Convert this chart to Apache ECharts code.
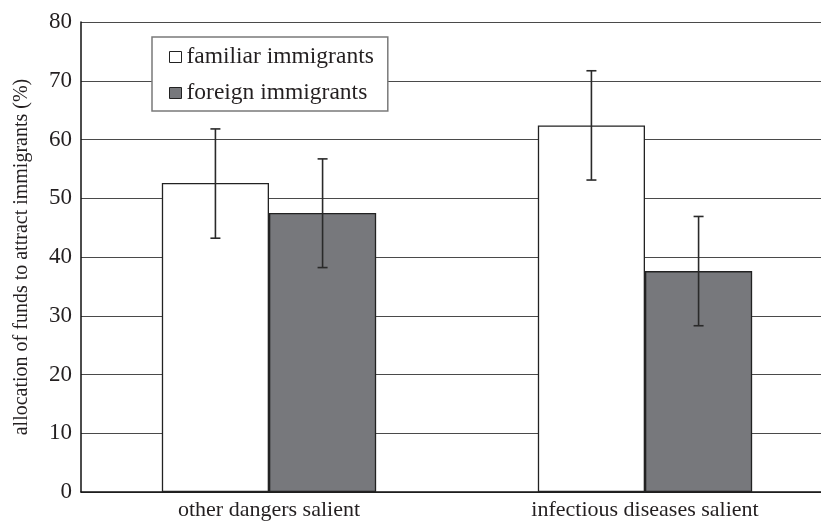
<!DOCTYPE html>
<html lang="en">
<head>
    <meta charset="UTF-8">
    <title>Allocation of funds</title>
    <script src="https://cdn.jsdelivr.net/npm/echarts@6/dist/echarts.min.js"></script>
    <style>
        html, body { margin: 0; padding: 0; background: #fff; overflow: hidden; }
        /* plot runs past the right edge of the picture, so the canvas is a bit wider */
        #main { width: 833px; height: 521px; }
    </style>
</head>
<body>
<div id="main"></div>
<script>
    var categories = ['other dangers salient', 'infectious diseases salient'];
    var familiar = [52.6, 62.4];
    var familiarErr = [[43.2, 61.8], [53.1, 71.7]];
    var foreign = [47.5, 37.6];
    var foreignErr = [[38.2, 56.7], [28.3, 46.9]];
    var yTicks = [0, 10, 20, 30, 40, 50, 60, 70, 80];

    var serif = '"Liberation Serif", "DejaVu Serif", serif';
    var ink = '#231f20';
    var chart = echarts.init(document.getElementById('main'));

    // error bar drawn per bar, shifted by half a bar width
    function errBar(shift) {
        return function (params, api) {
            var band = api.size([1, 0])[0];
            var x = api.coord([api.value(0), 0])[0] + band * shift;
            var lo = api.coord([api.value(0), api.value(1)])[1];
            var hi = api.coord([api.value(0), api.value(2)])[1];
            var cap = 5;
            var style = { stroke: '#2a2a2a', lineWidth: 1.6 };
            return {
                type: 'group',
                children: [
                    { type: 'line', shape: { x1: x, y1: lo, x2: x, y2: hi }, style: style },
                    { type: 'line', shape: { x1: x - cap, y1: lo, x2: x + cap, y2: lo }, style: style },
                    { type: 'line', shape: { x1: x - cap, y1: hi, x2: x + cap, y2: hi }, style: style }
                ]
            };
        };
    }

    chart.setOption({
        animation: false,
        backgroundColor: '#fff',
        grid: { left: 81, right: 0, top: 22, bottom: 29 },
        legend: {
            orient: 'vertical',
            left: 152,
            top: 37,
            padding: [8, 14, 6, 17],
            itemGap: 12,
            itemWidth: 12,
            itemHeight: 11,
            backgroundColor: '#fff',
            borderColor: '#7a7a7a',
            borderWidth: 1.5,
            textStyle: { fontFamily: serif, fontSize: 23.5, color: ink },
            data: [
                { name: 'familiar immigrants', icon: 'rect', itemStyle: { color: '#fff', borderColor: '#222', borderWidth: 1 } },
                { name: 'foreign immigrants', icon: 'rect', itemStyle: { color: '#77787c', borderColor: '#222', borderWidth: 1 } }
            ]
        },
        xAxis: {
            type: 'category',
            data: categories,
            axisLine: { lineStyle: { color: '#111', width: 1.5 } },
            axisTick: { show: false },
            axisLabel: { fontFamily: serif, fontSize: 22, color: ink, margin: 7 }
        },
        yAxis: {
            type: 'value',
            min: 0,
            max: 80,
            interval: 10,
            name: 'allocation of funds to attract immigrants (%)',
            nameLocation: 'middle',
            nameGap: 49,
            nameTextStyle: { fontFamily: serif, fontSize: 20, color: ink },
            axisLine: { show: true, lineStyle: { color: '#111', width: 1.5 } },
            axisTick: { show: false },
            axisLabel: {
                fontFamily: serif, fontSize: 23, color: ink, margin: 9,
                formatter: function (v) { return yTicks.indexOf(v) >= 0 ? String(v) : ''; }
            },
            splitLine: { lineStyle: { color: '#4a4a4a', width: 1 } }
        },
        series: [
            {
                name: 'familiar immigrants',
                type: 'bar',
                data: familiar,
                barWidth: '28.5%',
                barGap: '0%',
                itemStyle: { color: '#fff', borderColor: '#222', borderWidth: 1.3 }
            },
            {
                name: 'foreign immigrants',
                type: 'bar',
                data: foreign,
                barWidth: '28.5%',
                barGap: '0%',
                itemStyle: { color: '#77787c', borderColor: '#222', borderWidth: 1.3 }
            },
            {
                type: 'custom',
                renderItem: errBar(-0.1425),
                data: familiarErr.map(function (e, i) { return [i, e[0], e[1]]; }),
                z: 5
            },
            {
                type: 'custom',
                renderItem: errBar(0.1425),
                data: foreignErr.map(function (e, i) { return [i, e[0], e[1]]; }),
                z: 5
            }
        ]
    });
</script>
</body>
</html>
